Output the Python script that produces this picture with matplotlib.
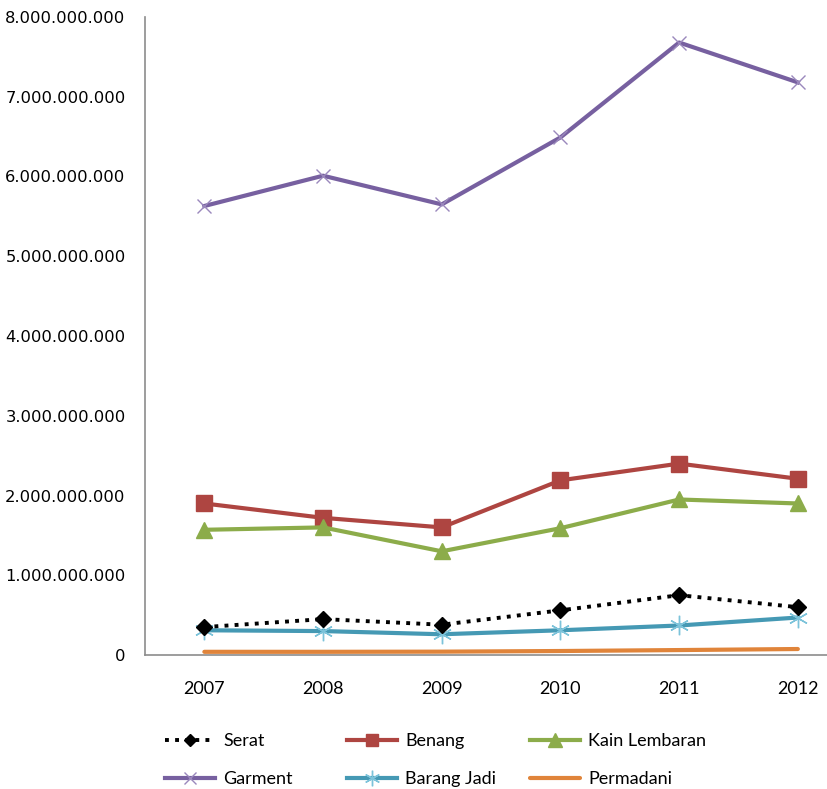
import matplotlib
matplotlib.use("Agg")
import matplotlib.pyplot as plt
from matplotlib.ticker import FuncFormatter

years = ["2007", "2008", "2009", "2010", "2011", "2012"]
serat = [0.35e9, 0.45e9, 0.38e9, 0.56e9, 0.75e9, 0.60e9]
benang = [1.90e9, 1.72e9, 1.60e9, 2.19e9, 2.40e9, 2.21e9]
kain = [1.57e9, 1.60e9, 1.30e9, 1.59e9, 1.95e9, 1.90e9]
garment = [5.63e9, 6.01e9, 5.65e9, 6.49e9, 7.68e9, 7.18e9]
barang_jadi = [0.31e9, 0.30e9, 0.26e9, 0.31e9, 0.37e9, 0.47e9]
permadani = [0.04e9, 0.04e9, 0.042e9, 0.05e9, 0.062e9, 0.075e9]

fig = plt.figure(figsize=(8.28, 7.89), dpi=100)
ax = fig.add_axes([145/828, 1 - 655/789, 1 - 145/828, (655 - 17)/789])

x = list(range(len(years)))
h_serat, = ax.plot(x, serat, color="black", linestyle=(0, (1, 1.6)), linewidth=2.8,
                   marker="D", markersize=8, label="Serat", zorder=4)
h_benang, = ax.plot(x, benang, color="#AE4541", linewidth=3, marker="s", markersize=11,
                    label="Benang", zorder=3)
h_kain, = ax.plot(x, kain, color="#8CAC4A", linewidth=3, marker="^", markersize=12,
                  label="Kain Lembaran", zorder=3)
h_garment, = ax.plot(x, garment, color="#7760A0", linewidth=3, marker="x", markersize=10,
                     markeredgewidth=1.0, markeredgecolor="#9A88BC", label="Garment", zorder=3)
h_barang, = ax.plot(x, barang_jadi, color="#4599B4", linewidth=3, marker=(6, 2, 0), markersize=14,
                    markeredgewidth=1.0, markeredgecolor="#7CC3DA", label="Barang Jadi", zorder=3)
h_perm, = ax.plot(x, permadani, color="#E0843A", linewidth=3, label="Permadani", zorder=3,
                  solid_capstyle="round")

ax.set_xlim(-0.5, -0.5 + (828 - 145) / 118.7)
ax.set_ylim(0, 8e9)
ax.set_yticks([i * 1e9 for i in range(9)])
ax.yaxis.set_major_formatter(FuncFormatter(lambda v, p: "0" if v == 0 else f"{int(v):,}".replace(",", ".")))
ax.set_xticks(x)
ax.set_xticklabels(years)
ax.tick_params(axis="both", length=0, colors="black")
ax.tick_params(axis="y", pad=14, labelsize=11.8)
ax.tick_params(axis="x", pad=19, labelsize=13)
for lab in ax.get_xticklabels():
    lab.set_fontfamily("Lato")
for s in ["top", "right"]:
    ax.spines[s].set_visible(False)
for s in ["left", "bottom"]:
    ax.spines[s].set_color("#8C8C8C")
    ax.spines[s].set_linewidth(1.2)

cols = [([h_serat, h_garment], 165), ([h_benang, h_barang], 347), ([h_kain, h_perm], 530)]
for hs, xpos in cols:
    leg = fig.legend(hs, [h.get_label() for h in hs], loc="upper left",
                     bbox_to_anchor=(xpos/828, 1 - 733/789), frameon=False,
                     prop={"family": "Lato", "size": 13}, handlelength=2.77,
                     handletextpad=0.44, labelspacing=1.22, borderpad=0,
                     borderaxespad=0, markerscale=0.8)

fig.savefig("out.png", dpi=100)
